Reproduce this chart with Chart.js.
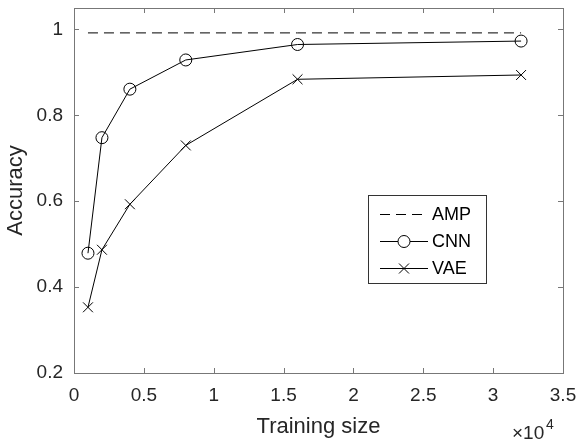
<!DOCTYPE html>
<html>
<head>
<meta charset="utf-8">
<script src="https://cdn.jsdelivr.net/npm/chart.js@4.4.1/dist/chart.umd.min.js"></script>
<style>
  html, body { margin: 0; padding: 0; background: #fff; }
  #wrap { width: 577px; height: 442px; position: relative; }
</style>
</head>
<body>
<div id="wrap"><canvas id="accChart"></canvas></div>
<script>
const trainingSizes = [1000, 2000, 4000, 8000, 16000, 32000];
const ampAccuracy = [0.992, 0.992, 0.992, 0.992, 0.992, 0.992];
const cnnAccuracy = [0.479, 0.748, 0.861, 0.929, 0.965, 0.973];
const vaeAccuracy = [0.353, 0.487, 0.593, 0.730, 0.884, 0.894];
const xTicks = [0, 5000, 10000, 15000, 20000, 25000, 30000, 35000];
const yTicks = [0.2, 0.4, 0.6, 0.8, 1.0];

const FONT = 'Arial, "Liberation Sans", sans-serif';
const AXIS_GREY = '#777777';
const TEXT_DARK = '#262626';

const toPoints = (ys) => trainingSizes.map((x, i) => ({ x: x, y: ys[i] }));

// box round the plot area with MATLAB style inward ticks on all four sides
const boxTicks = {
  id: 'boxTicks',
  afterDatasetsDraw(chart) {
    const { ctx, chartArea: a, scales } = chart;
    const len = 5;
    ctx.save();
    ctx.strokeStyle = AXIS_GREY;
    ctx.lineWidth = 1;
    ctx.strokeRect(Math.round(a.left) + 0.5, Math.round(a.top) + 0.5,
      Math.round(a.right - a.left), Math.round(a.bottom - a.top));
    ctx.beginPath();
    xTicks.forEach(v => {
      const px = Math.round(scales.x.getPixelForValue(v)) + 0.5;
      ctx.moveTo(px, a.bottom); ctx.lineTo(px, a.bottom - len);
      ctx.moveTo(px, a.top); ctx.lineTo(px, a.top + len);
    });
    yTicks.forEach(v => {
      const py = Math.round(scales.y.getPixelForValue(v)) + 0.5;
      ctx.moveTo(a.left, py); ctx.lineTo(a.left + len, py);
      ctx.moveTo(a.right, py); ctx.lineTo(a.right - len, py);
    });
    ctx.stroke();

    // x10^4 exponent label
    ctx.fillStyle = TEXT_DARK;
    ctx.textBaseline = 'alphabetic';
    ctx.textAlign = 'left';
    ctx.font = '19px ' + FONT;
    ctx.fillText('\u00d710', 512, 439);
    ctx.font = '14px ' + FONT;
    ctx.fillText('4', 546, 429);
    ctx.restore();
  }
};

// legend box inside the axes
const innerLegend = {
  id: 'innerLegend',
  afterDraw(chart) {
    const { ctx } = chart;
    const bx = 368, by = 195, bw = 118, bh = 88;
    ctx.save();
    ctx.fillStyle = '#fff';
    ctx.fillRect(bx, by, bw, bh);
    ctx.strokeStyle = '#333';
    ctx.lineWidth = 1;
    ctx.strokeRect(bx + 0.5, by + 0.5, bw, bh);
    const rows = [214, 241, 268];
    chart.data.datasets.forEach((ds, i) => {
      const y = rows[i] + 0.5;
      ctx.strokeStyle = '#000';
      ctx.lineWidth = 1;
      ctx.setLineDash(ds.borderDash || []);
      ctx.beginPath();
      ctx.moveTo(380, y); ctx.lineTo(428, y);
      ctx.stroke();
      ctx.setLineDash([]);
      if (ds.pointStyle === 'circle') {
        ctx.beginPath();
        ctx.arc(404, y, 6, 0, Math.PI * 2);
        ctx.fillStyle = '#fff';
        ctx.fill();
        ctx.stroke();
      } else if (ds.pointStyle === 'crossRot') {
        ctx.beginPath();
        ctx.moveTo(399, y - 5); ctx.lineTo(409, y + 5);
        ctx.moveTo(399, y + 5); ctx.lineTo(409, y - 5);
        ctx.stroke();
      }
      ctx.fillStyle = '#000';
      ctx.font = '18px ' + FONT;
      ctx.textBaseline = 'middle';
      ctx.textAlign = 'left';
      ctx.fillText(ds.label, 432, y + 1);
    });
    ctx.restore();
  }
};

new Chart(document.getElementById('accChart'), {
  type: 'line',
  data: {
    datasets: [
      {
        label: 'AMP',
        data: toPoints(ampAccuracy),
        borderColor: '#000',
        borderWidth: 1,
        borderDash: [10, 6],
        pointRadius: 0,
        pointStyle: false
      },
      {
        label: 'CNN',
        data: toPoints(cnnAccuracy),
        borderColor: '#000',
        backgroundColor: 'rgba(255,255,255,0)',
        borderWidth: 1,
        pointStyle: 'circle',
        pointRadius: 6,
        pointBorderWidth: 1,
        pointBackgroundColor: 'rgba(255,255,255,0)'
      },
      {
        label: 'VAE',
        data: toPoints(vaeAccuracy),
        borderColor: '#000',
        borderWidth: 1,
        pointStyle: 'crossRot',
        pointRadius: 7,
        pointBorderWidth: 1
      }
    ]
  },
  options: {
    responsive: true,
    maintainAspectRatio: false,
    animation: false,
    layout: { padding: { top: 6, right: 14, left: 0, bottom: 0 } },
    plugins: {
      legend: { display: false },
      tooltip: { enabled: false }
    },
    scales: {
      x: {
        type: 'linear',
        min: 0,
        max: 35000,
        afterFit(scale) {
          scale.height = 69;
          scale.paddingLeft = 0;
          scale.paddingRight = 0;
        },
        afterBuildTicks(scale) { scale.ticks = xTicks.map(v => ({ value: v })); },
        grid: { display: false, drawTicks: false },
        border: { display: false },
        ticks: {
          color: TEXT_DARK,
          font: { family: FONT, size: 19 },
          padding: 11,
          maxRotation: 0,
          callback: (v) => String(v / 10000)
        },
        title: {
          display: true,
          text: 'Training size',
          color: TEXT_DARK,
          font: { family: FONT, size: 22 },
          padding: { top: 2, bottom: 2 }
        }
      },
      y: {
        min: 0.2,
        max: 1.05,
        afterFit(scale) {
          scale.width = 74;
          scale.paddingTop = 0;
          scale.paddingBottom = 0;
        },
        afterBuildTicks(scale) { scale.ticks = yTicks.map(v => ({ value: v })); },
        grid: { display: false, drawTicks: false },
        border: { display: false },
        ticks: {
          color: TEXT_DARK,
          font: { family: FONT, size: 19 },
          padding: 11,
          callback: (v) => (Math.abs(v - 1) < 1e-9 ? '1' : v.toFixed(1))
        },
        title: {
          display: true,
          text: 'Accuracy',
          color: TEXT_DARK,
          font: { family: FONT, size: 22 },
          padding: { top: 3, bottom: 2 }
        }
      }
    }
  },
  plugins: [boxTicks, innerLegend]
});
</script>
</body>
</html>
